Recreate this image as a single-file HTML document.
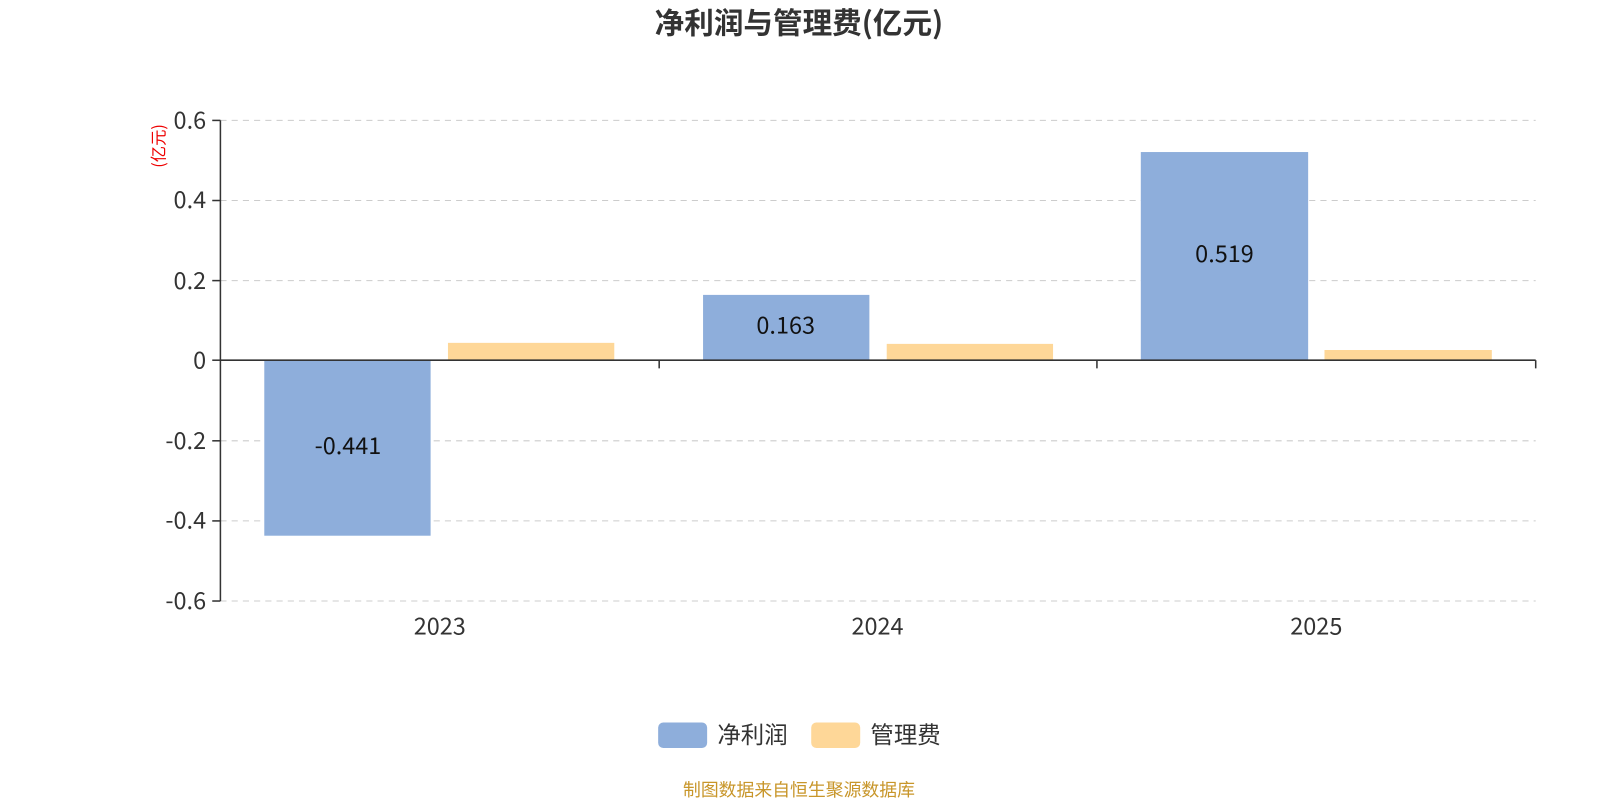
<!DOCTYPE html>
<html><head><meta charset="utf-8"><style>body{margin:0;background:#fff}svg{display:block}</style></head><body>
<svg width="1600" height="800" xmlns="http://www.w3.org/2000/svg" font-family="'Noto Sans CJK SC','Liberation Sans',sans-serif">
<g transform="scale(1.0204)">
<text x="783" y="33" text-anchor="middle" font-size="29" font-weight="bold" fill="#333">净利润与管理费(亿元)</text>
<g stroke="#ccc" stroke-dasharray="6,5" stroke-width="1">
<line x1="216" y1="118" x2="1505" y2="118"/><line x1="216" y1="196.5" x2="1505" y2="196.5"/><line x1="216" y1="275" x2="1505" y2="275"/>
<line x1="216" y1="432" x2="1505" y2="432"/><line x1="216" y1="510.5" x2="1505" y2="510.5"/><line x1="216" y1="589" x2="1505" y2="589"/>
</g>
<g fill="#8eaedb">
<rect x="259" y="353" width="163" height="172"/>
<rect x="689" y="289" width="163" height="64"/>
<rect x="1118" y="149" width="164" height="204"/>
</g>
<g fill="#fed798">
<rect x="439" y="336" width="163" height="17"/>
<rect x="869" y="337" width="163" height="16"/>
<rect x="1298" y="343" width="164" height="10"/>
</g>
<g stroke="#333" stroke-width="1.5" fill="none">
<line x1="216" y1="118" x2="216" y2="589"/>
<line x1="216" y1="353" x2="1505" y2="353"/>
<line x1="208" y1="118" x2="216" y2="118"/><line x1="208" y1="196.5" x2="216" y2="196.5"/><line x1="208" y1="275" x2="216" y2="275"/><line x1="208" y1="353" x2="216" y2="353"/><line x1="208" y1="432" x2="216" y2="432"/><line x1="208" y1="510.5" x2="216" y2="510.5"/><line x1="208" y1="589" x2="216" y2="589"/>
<line x1="646" y1="353" x2="646" y2="361"/><line x1="1075" y1="353" x2="1075" y2="361"/><line x1="1505" y1="353" x2="1505" y2="361"/>
</g>
<g font-size="23" fill="#333" text-anchor="end">
<text x="202" y="126">0.6</text><text x="202" y="204">0.4</text><text x="202" y="283">0.2</text><text x="202" y="361">0</text>
<text x="202" y="440">-0.2</text><text x="202" y="518">-0.4</text><text x="202" y="597">-0.6</text>
</g>
<text transform="translate(161,143) rotate(-90)" text-anchor="middle" font-size="16" fill="#e00">(亿元)</text>
<g font-size="23" fill="#333" text-anchor="middle">
<text x="431" y="622">2023</text><text x="860" y="622">2024</text><text x="1290" y="622">2025</text>
</g>
<g font-size="23" fill="#111" text-anchor="middle">
<text x="341" y="445">-0.441</text><text x="770" y="327">0.163</text><text x="1200" y="257">0.519</text>
</g>
<rect x="645" y="708" width="48" height="25" rx="5" fill="#8eaedb"/>
<text x="703" y="728" font-size="23" fill="#333">净利润</text>
<rect x="795" y="708" width="48" height="25" rx="5" fill="#fed798"/>
<text x="853" y="728" font-size="23" fill="#333">管理费</text>
<text x="783" y="780" text-anchor="middle" font-size="17.5" fill="#c8962a">制图数据来自恒生聚源数据库</text>
</g>
</svg>
</body></html>
